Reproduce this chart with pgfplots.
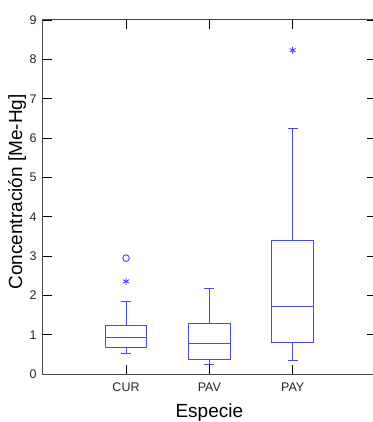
\documentclass[border=0pt]{standalone}
\usepackage{fontspec}
\setmainfont{Liberation Sans}
\usepackage{pgfplots}
\pgfplotsset{compat=1.18}
\usepgfplotslibrary{statistics}
\definecolor{boxblue}{RGB}{70,70,255}
\definecolor{axgray}{RGB}{70,70,70}
\begin{document}
\begin{tikzpicture}
\begin{axis}[
  scale only axis,
  width=333.3pt, height=354.3pt,
  xmin=0, xmax=4, ymin=0, ymax=9,
  xtick={1,2,3}, xticklabels={CUR,PAV,PAY},
  ytick={0,1,...,9},
  tick align=inside,
  major tick length=9pt,
  axis line style={axgray, line width=1pt},
  every tick/.style={black, line width=0.9pt},
  tick label style={font=\fontsize{12.5}{14}\selectfont, text=black!85},
  /pgf/number format/assume math mode=true,
  xticklabel shift=5pt,
  yticklabel shift=2.5pt,
  xlabel={Especie},
  ylabel={Concentración [Me-Hg]},
  label style={font=\fontsize{19}{22}\selectfont},
  xlabel style={at={(axis description cs:0.5,-0.1073)}, anchor=center},
  ylabel style={at={(axis description cs:-0.0771,0.515)}, anchor=center},
  boxplot/draw direction=y,
  boxplot/box extend=0.5,
  boxplot/whisker extend=0.12,
]
\addplot+[boxplot prepared={draw position=1,
  lower whisker=0.54, lower quartile=0.68, median=0.94,
  upper quartile=1.24, upper whisker=1.85},
  draw=boxblue, line width=1pt, solid, mark=none] coordinates {};
\addplot+[boxplot prepared={draw position=2,
  lower whisker=0.24, lower quartile=0.38, median=0.77,
  upper quartile=1.29, upper whisker=2.19},
  draw=boxblue, line width=1pt, solid, mark=none] coordinates {};
\addplot+[boxplot prepared={draw position=3,
  lower whisker=0.35, lower quartile=0.82, median=1.71,
  upper quartile=3.41, upper whisker=6.25},
  draw=boxblue, line width=1pt, solid, mark=none] coordinates {};
\addplot[only marks, mark=o, mark size=3.3pt, boxblue, line width=0.9pt] coordinates {(1,2.95)};
\addplot[only marks, mark=asterisk, mark size=3.5pt, boxblue, line width=0.9pt] coordinates {(1,2.36) (3,8.23)};
\end{axis}
\pgfresetboundingbox
\path[use as bounding box] ([shift={(-42.7pt,-47.7pt)}]current axis.south west) rectangle ([shift={(329.3pt,374.3pt)}]current axis.south west);
\end{tikzpicture}
\end{document}
